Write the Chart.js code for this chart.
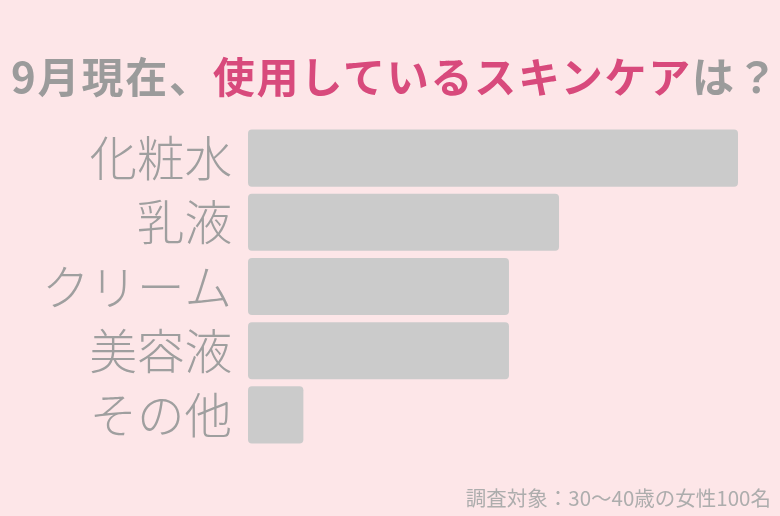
<!DOCTYPE html>
<html>
<head>
<meta charset="utf-8">
<script src="https://cdn.jsdelivr.net/npm/chart.js@4"></script>
<style>
  html, body { margin: 0; padding: 0; }
  body {
    width: 780px; height: 516px; overflow: hidden;
    background: #fde6e8;
    font-family: "Noto Sans CJK JP", "Noto Sans", sans-serif;
    position: relative;
  }
  #title {
    position: absolute; left: 11px; top: 54px;
    font-size: 42px; font-weight: 700; color: #9b9b9b;
    letter-spacing: 1.8px; white-space: nowrap; line-height: 1;
  }
  #title .hl { color: #d84a7c; }
  #note {
    position: absolute; right: 9px; top: 487px;
    font-size: 20.5px; color: #adadad; white-space: nowrap; line-height: 1;
  }
  #wrap { position: absolute; left: 0; top: 0; width: 780px; height: 516px; }
</style>
</head>
<body>
<div id="wrap"><canvas id="skinChart"></canvas></div>
<div id="title">9月現在、<span class="hl">使用しているスキンケア</span>は？</div>
<div id="note">調査対象：30〜40歳の女性100名</div>
<script>
// Chart data
const categories = ['化粧水', '乳液', 'クリーム', '美容液', 'その他'];
const usersCount = [92, 58.4, 49, 49, 10.4];

const ctx = document.getElementById('skinChart');

new Chart(ctx, {
  type: 'bar',
  data: {
    labels: categories,
    datasets: [{
      data: usersCount,
      backgroundColor: '#cbcbcb',
      borderRadius: 4,
      borderSkipped: false,
      barPercentage: 0.89,
      categoryPercentage: 1
    }]
  },
  options: {
    indexAxis: 'y',
    responsive: true,
    maintainAspectRatio: false,
    animation: false,
    layout: {
      padding: { top: 126, bottom: 69, right: 42, left: 0 }
    },
    plugins: {
      legend: { display: false },
      tooltip: { enabled: false }
    },
    scales: {
      x: {
        display: false,
        min: 0,
        max: 92
      },
      y: {
        grid: { display: false, drawTicks: false },
        border: { display: false },
        ticks: {
          color: '#9f9f9f',
          padding: 16,
          font: { family: '"Noto Sans CJK JP"', size: 47.5, weight: 300 }
        },
        afterFit: function(scale) {
          scale.width = 248;
        }
      }
    }
  }
});
</script>
</body>
</html>
